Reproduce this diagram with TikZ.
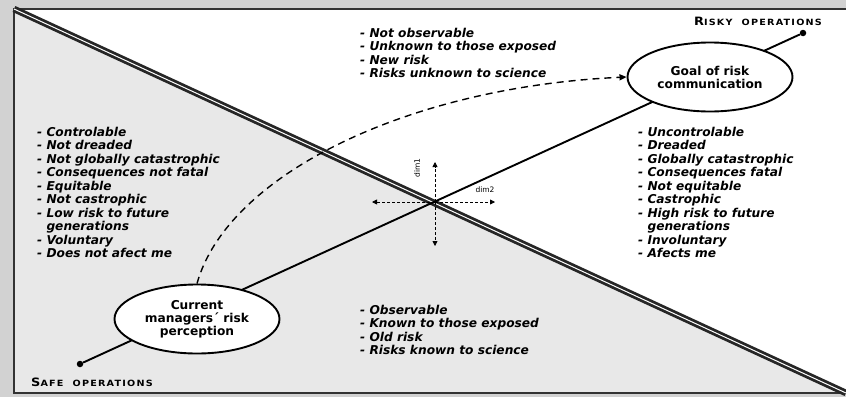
\documentclass[tikz,border=0pt]{standalone}
\usepackage{fontspec}
\setmainfont{DejaVu Sans}
\newfontfamily\listfont{DejaVu Sans}
\newfontfamily\opfont[LetterSpace=14, FakeStretch=1.12]{DejaVu Sans}
\usetikzlibrary{arrows.meta,shapes.geometric}

\tikzset{
  listtext/.style={anchor=north west, align=left, inner sep=0pt,
    font=\listfont\fontsize{12.2}{13.5}\selectfont\bfseries\itshape},
  bubble/.style={ellipse, draw, line width=1.9pt, fill=white,
    minimum width=165pt, minimum height=69pt, inner sep=0pt, align=center,
    font=\fontsize{12.2}{13}\selectfont\bfseries},
  enddot/.style={circle, fill=black, inner sep=0pt, minimum size=6.5pt},
  dimarrow/.style={densely dashed, line width=0.8pt, -{Triangle[length=5pt,width=5pt]}},
  dimlabel/.style={font=\fontsize{7.5}{8}\selectfont, inner sep=0pt},
  oplabel/.style={font=\opfont\bfseries, inner sep=0pt}
}

\begin{document}
\begin{tikzpicture}[x=1pt,y=-1pt]
\useasboundingbox (0,0) rectangle (846,397);
% frame
\fill[gray!35] (0,0) rectangle (846,397);
\fill[white] (14,9) rectangle (846,393);
\fill[black!9] (14,9) -- (846,393) -- (14,393) -- cycle;
\draw[gray!40!black, line width=1.5pt] (846,9) -- (14,9) -- (14,393) -- (846,393);
\draw[gray!30!black, line width=2.8pt, double=white, double distance=1pt] (14,9) -- (846,393);

% end points and main axis
\node[enddot] (safedot) at (80,364) {};
\node[enddot] (riskydot) at (803,33) {};
\draw[line width=1.9pt] (safedot) -- (riskydot);
\node[oplabel] (safe) at (92,382) {{\fontsize{11.5}{12}\selectfont S}{\fontsize{8.6}{10}\selectfont AFE\ \ OPERATIONS}};
\node[oplabel] (risky) at (758,21) {{\fontsize{11.5}{12}\selectfont R}{\fontsize{8.6}{10}\selectfont ISKY\ \ OPERATIONS}};

\node[bubble] (current) at (197,319) {Current\\managers´ risk\\perception};
\node[bubble] (goal) at (710,77) {Goal of risk\\communication};
\draw[dashed, dash pattern=on 7pt off 5pt, line width=1.4pt, -{Triangle[length=7pt,width=6pt]}]
  (current.north) .. controls +(30,-108) and +(-220,10) .. (goal.west);

% dimensions
\coordinate (dimo) at (435,202);
\coordinate (dimup) at (435,162);
\coordinate (dimdown) at (435,246);
\coordinate (dimleft) at (372,202);
\coordinate (dimright) at (495,202);
\draw[dimarrow] (dimo) -- (dimup);
\draw[dimarrow] (dimo) -- (dimdown);
\draw[dimarrow] (dimo) -- (dimleft);
\draw[dimarrow] (dimo) -- (dimright);
\node[dimlabel, rotate=90] (dim1) at (417,168) {dim1};
\node[dimlabel] (dim2) at (485,190) {dim2};

% lists
\node[listtext] (unknown) at (360,28) {- Not observable\\- Unknown to those exposed\\- New risk\\- Risks unknown to science};
\node[listtext] (known) at (360,305) {- Observable\\- Known to those exposed\\- Old risk\\- Risks known to science};
\node[listtext] (safelist) at (37,127) {- Controlable\\- Not dreaded\\- Not globally catastrophic\\- Consequences not fatal\\- Equitable\\- Not castrophic\\- Low risk to future\\\hphantom{- }generations\\- Voluntary\\- Does not afect me};
\node[listtext] (riskylist) at (638,127) {- Uncontrolable\\- Dreaded\\- Globally catastrophic\\- Consequences fatal\\- Not equitable\\- Castrophic\\- High risk to future\\\hphantom{- }generations\\- Involuntary\\- Afects me};
\end{tikzpicture}
\end{document}
